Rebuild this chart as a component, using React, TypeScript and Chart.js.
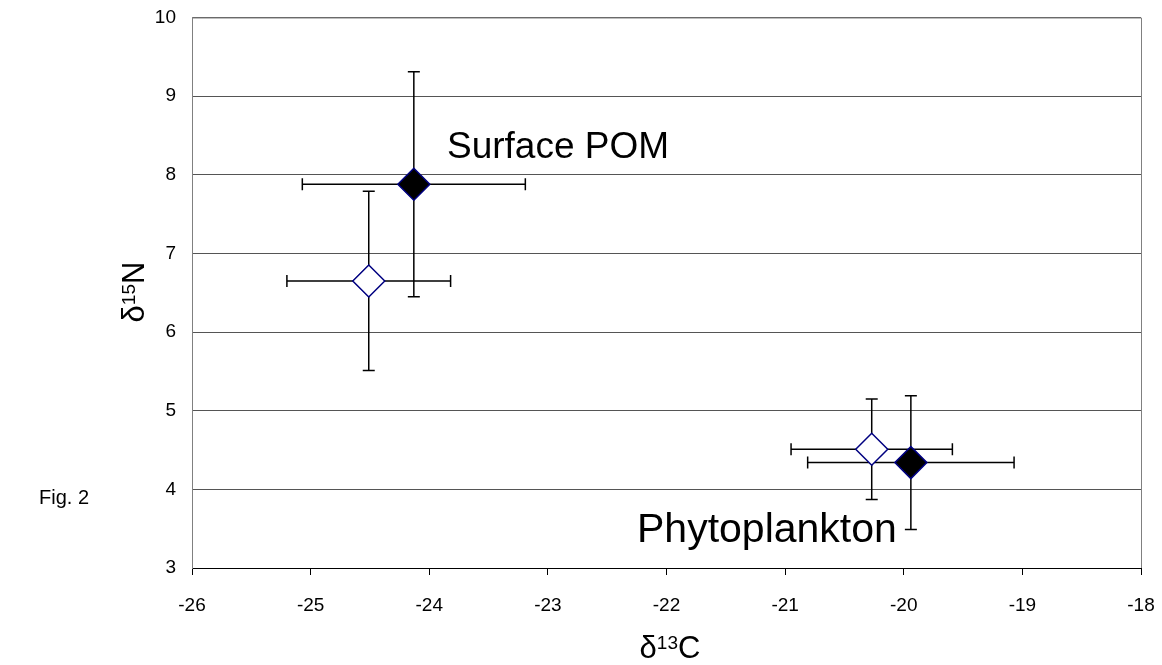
import React, { useEffect, useRef } from "react";
import { Chart, registerables } from "chart.js";

Chart.register(...registerables);

// Series: open diamonds and filled diamonds (Surface POM, Phytoplankton)
const groupLabels = ["Surface POM", "Phytoplankton"];
const openX = [-24.51, -20.27];
const openY = [6.65, 4.51];
const openXErr = [0.69, 0.68];
const openYErr = [1.14, 0.64];
const filledX = [-24.13, -19.94];
const filledY = [7.88, 4.34];
const filledXErr = [0.94, 0.87];
const filledYErr = [1.43, 0.85];

const xMin = -26;
const xMax = -18;
const yMin = 3;
const yMax = 10;

const FONT = "Arial, 'Liberation Sans', Helvetica, sans-serif";

const errorBarPlugin = {
  id: "errorBars",
  beforeDatasetsDraw(chart: any) {
    const ctx = chart.ctx;
    const xs = chart.scales.x;
    const ys = chart.scales.y;
    ctx.save();
    ctx.strokeStyle = "#000";
    ctx.lineWidth = 1.5;
    chart.data.datasets.forEach((ds: any) => {
      ds.data.forEach((p: any) => {
        const cx = xs.getPixelForValue(p.x);
        const cy = ys.getPixelForValue(p.y);
        const x1 = xs.getPixelForValue(p.x - p.xErr);
        const x2 = xs.getPixelForValue(p.x + p.xErr);
        const y1 = ys.getPixelForValue(p.y + p.yErr);
        const y2 = ys.getPixelForValue(p.y - p.yErr);
        const c = 6;
        ctx.beginPath();
        ctx.moveTo(x1, cy);
        ctx.lineTo(x2, cy);
        ctx.moveTo(x1, cy - c);
        ctx.lineTo(x1, cy + c);
        ctx.moveTo(x2, cy - c);
        ctx.lineTo(x2, cy + c);
        ctx.moveTo(cx, y1);
        ctx.lineTo(cx, y2);
        ctx.moveTo(cx - c, y1);
        ctx.lineTo(cx + c, y1);
        ctx.moveTo(cx - c, y2);
        ctx.lineTo(cx + c, y2);
        ctx.stroke();
      });
    });
    ctx.restore();
  },
};

const framePlugin = {
  id: "frame",
  beforeDatasetsDraw(chart: any) {
    const { ctx, chartArea } = chart;
    ctx.save();
    ctx.strokeStyle = "#808080";
    ctx.lineWidth = 1;
    ctx.beginPath();
    ctx.moveTo(chartArea.left, chartArea.top + 0.5);
    ctx.lineTo(chartArea.right + 0.5, chartArea.top + 0.5);
    ctx.lineTo(chartArea.right + 0.5, chartArea.bottom);
    ctx.stroke();
    ctx.restore();
  },
};

function drawSup(ctx: any, parts: [string, boolean][], x: number, y: number, big: number, small: number) {
  let total = 0;
  parts.forEach(([t, sup]) => {
    ctx.font = `${sup ? small : big}px ${FONT}`;
    total += ctx.measureText(t).width;
  });
  let cx = x - total / 2;
  parts.forEach(([t, sup]) => {
    ctx.font = `${sup ? small : big}px ${FONT}`;
    ctx.fillText(t, cx, sup ? y - big * 0.3 : y);
    cx += ctx.measureText(t).width;
  });
}

const textPlugin = {
  id: "texts",
  afterDraw(chart: any) {
    const ctx = chart.ctx;
    ctx.save();
    ctx.fillStyle = "#000";
    ctx.textBaseline = "alphabetic";
    ctx.textAlign = "left";
    ctx.font = `37px ${FONT}`;
    ctx.fillText(groupLabels[0], 447, 158);
    ctx.font = `41px ${FONT}`;
    ctx.fillText(groupLabels[1], 637, 542);
    ctx.font = `20px ${FONT}`;
    ctx.fillText("Fig. 2", 39, 504);
    // x title
    drawSup(ctx, [["δ", false], ["13", true], ["C", false]], 670, 658, 31, 19);
    // y title rotated
    ctx.translate(144, 292);
    ctx.rotate(-Math.PI / 2);
    drawSup(ctx, [["δ", false], ["15", true], ["N", false]], 0, 0, 31, 19);
    ctx.restore();
  },
};

function zeroPad(s: any) {
  s.paddingTop = 0;
  s.paddingBottom = 0;
  s.paddingLeft = 0;
  s.paddingRight = 0;
}

export default function App() {
  const ref = useRef<HTMLCanvasElement>(null);
  useEffect(() => {
    document.body.style.margin = "0";
    const mk = (xs: number[], ys: number[], xe: number[], ye: number[]) =>
      xs.map((x, i) => ({ x, y: ys[i], xErr: xe[i], yErr: ye[i] }));
    const chart = new Chart(ref.current as HTMLCanvasElement, {
      type: "scatter",
      data: {
        datasets: [
          {
            label: "open",
            data: mk(openX, openY, openXErr, openYErr),
            pointStyle: "rectRot",
            pointRadius: 16,
            pointBackgroundColor: "#ffffff",
            pointBorderColor: "#000080",
            pointBorderWidth: 1.5,
          },
          {
            label: "filled",
            data: mk(filledX, filledY, filledXErr, filledYErr),
            pointStyle: "rectRot",
            pointRadius: 16,
            pointBackgroundColor: "#000000",
            pointBorderColor: "#000080",
            pointBorderWidth: 1.5,
          },
        ],
      } as any,
      options: {
        animation: false,
        responsive: false,
        events: [],
        layout: { padding: { left: 0, top: 17, right: 21, bottom: 0 } },
        plugins: { legend: { display: false }, tooltip: { enabled: false } },
        scales: {
          x: {
            type: "linear",
            min: xMin,
            max: xMax,
            ticks: { stepSize: 1, color: "#000", font: { size: 19, family: FONT }, padding: 19 },
            grid: { drawOnChartArea: false, drawTicks: true, tickLength: 7, color: "#000" },
            border: { color: "#000", width: 1 },
            afterFit(s: any) {
              s.height = 97;
              zeroPad(s);
            },
          },
          y: {
            type: "linear",
            min: yMin,
            max: yMax,
            ticks: { stepSize: 1, color: "#000", font: { size: 19, family: FONT }, padding: 16 },
            grid: { drawTicks: false, color: "#555", lineWidth: 1 },
            border: { color: "#808080", width: 1 },
            afterFit(s: any) {
              s.width = 192;
              zeroPad(s);
            },
          },
        },
      },
      plugins: [framePlugin, errorBarPlugin, textPlugin],
    } as any);
    return () => chart.destroy();
  }, []);
  return (
    <div style={{ position: "fixed", left: 0, top: 0, width: 1162, height: 665, background: "#fff" }}>
      <canvas ref={ref} width={1162} height={665} style={{ display: "block" }} />
    </div>
  );
}
